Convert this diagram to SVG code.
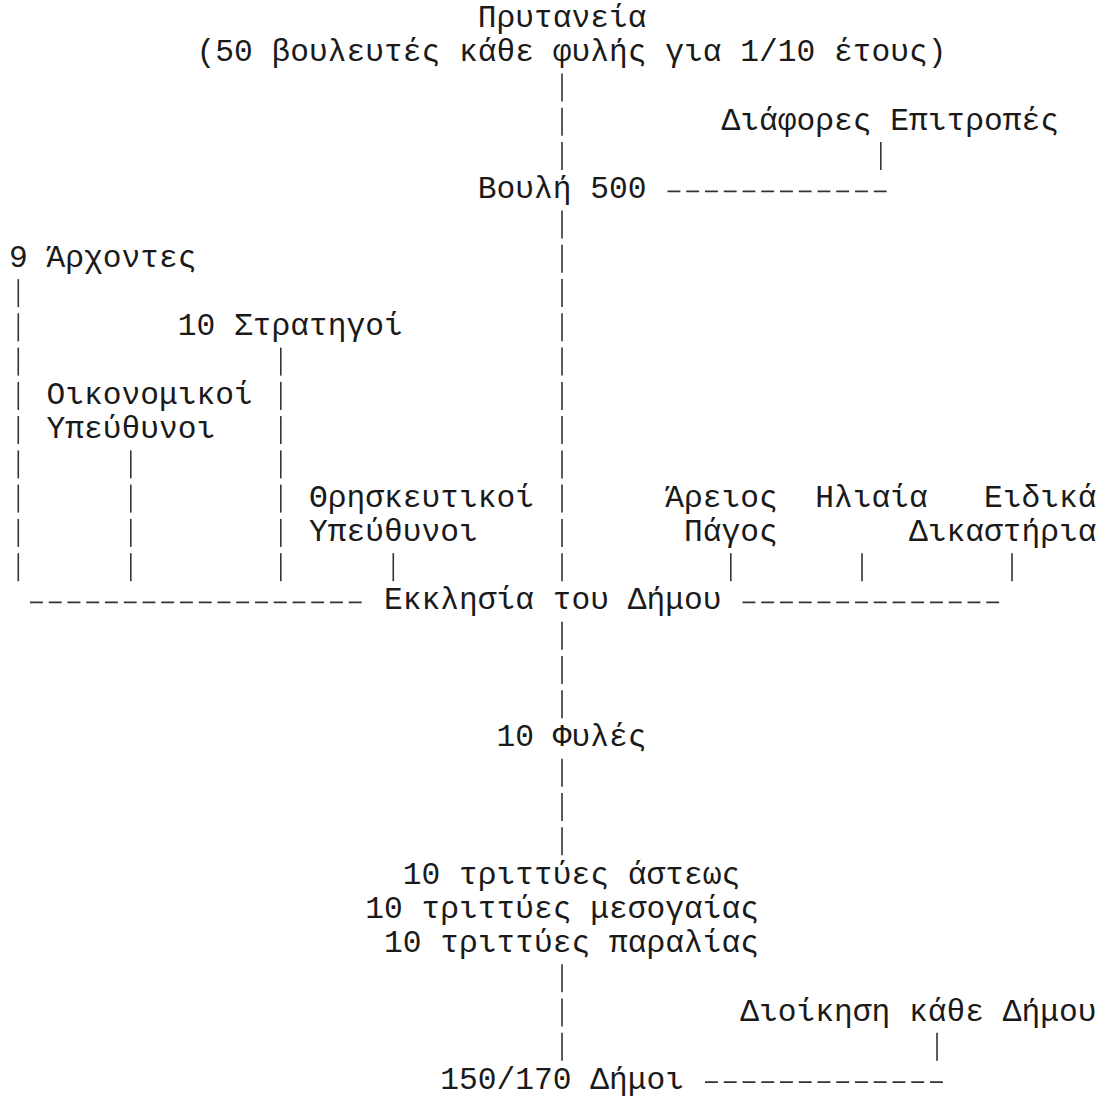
<svg xmlns="http://www.w3.org/2000/svg" width="1106" height="1099" viewBox="0 0 1106 1099">
<style>
  text { font-family: "Liberation Mono", "DejaVu Sans Mono", monospace; font-size: 31.25px; fill: #1a1a1a; white-space: pre; }
  .bar { stroke: #333; stroke-width: 1.6; }
  .dash { stroke: #333; stroke-width: 1.8; stroke-dasharray: 12.9 5.85; }
</style>
<rect width="1106" height="1099" fill="#fff"/>
<g id="connectors">
  <!-- vertical bars: x = column centre, y = baseline-22 .. baseline+6 -->
  <line class="bar" x1="562.03" y1="73.5" x2="562.03" y2="101.5"/>
  <line class="bar" x1="562.03" y1="107.8" x2="562.03" y2="135.8"/>
  <line class="bar" x1="562.03" y1="142" x2="562.03" y2="170"/>
  <line class="bar" x1="880.78" y1="142" x2="880.78" y2="170"/>
  <line class="bar" x1="562.03" y1="210.6" x2="562.03" y2="238.6"/>
  <line class="bar" x1="562.03" y1="244.8" x2="562.03" y2="272.8"/>
  <line class="bar" x1="18.28" y1="279.1" x2="18.28" y2="307.1"/>
  <line class="bar" x1="562.03" y1="279.1" x2="562.03" y2="307.1"/>
  <line class="bar" x1="18.28" y1="313.3" x2="18.28" y2="341.3"/>
  <line class="bar" x1="562.03" y1="313.3" x2="562.03" y2="341.3"/>
  <line class="bar" x1="18.28" y1="347.6" x2="18.28" y2="375.6"/>
  <line class="bar" x1="280.78" y1="347.6" x2="280.78" y2="375.6"/>
  <line class="bar" x1="562.03" y1="347.6" x2="562.03" y2="375.6"/>
  <line class="bar" x1="18.28" y1="381.9" x2="18.28" y2="409.9"/>
  <line class="bar" x1="280.78" y1="381.9" x2="280.78" y2="409.9"/>
  <line class="bar" x1="562.03" y1="381.9" x2="562.03" y2="409.9"/>
  <line class="bar" x1="18.28" y1="416.1" x2="18.28" y2="444.1"/>
  <line class="bar" x1="280.78" y1="416.1" x2="280.78" y2="444.1"/>
  <line class="bar" x1="562.03" y1="416.1" x2="562.03" y2="444.1"/>
  <line class="bar" x1="18.28" y1="450.4" x2="18.28" y2="478.4"/>
  <line class="bar" x1="130.78" y1="450.4" x2="130.78" y2="478.4"/>
  <line class="bar" x1="280.78" y1="450.4" x2="280.78" y2="478.4"/>
  <line class="bar" x1="562.03" y1="450.4" x2="562.03" y2="478.4"/>
  <line class="bar" x1="18.28" y1="484.6" x2="18.28" y2="512.6"/>
  <line class="bar" x1="130.78" y1="484.6" x2="130.78" y2="512.6"/>
  <line class="bar" x1="280.78" y1="484.6" x2="280.78" y2="512.6"/>
  <line class="bar" x1="562.03" y1="484.6" x2="562.03" y2="512.6"/>
  <line class="bar" x1="18.28" y1="518.9" x2="18.28" y2="546.9"/>
  <line class="bar" x1="130.78" y1="518.9" x2="130.78" y2="546.9"/>
  <line class="bar" x1="280.78" y1="518.9" x2="280.78" y2="546.9"/>
  <line class="bar" x1="562.03" y1="518.9" x2="562.03" y2="546.9"/>
  <line class="bar" x1="18.28" y1="553.2" x2="18.28" y2="581.2"/>
  <line class="bar" x1="130.78" y1="553.2" x2="130.78" y2="581.2"/>
  <line class="bar" x1="280.78" y1="553.2" x2="280.78" y2="581.2"/>
  <line class="bar" x1="393.28" y1="553.2" x2="393.28" y2="581.2"/>
  <line class="bar" x1="562.03" y1="553.2" x2="562.03" y2="581.2"/>
  <line class="bar" x1="730.78" y1="553.2" x2="730.78" y2="581.2"/>
  <line class="bar" x1="862.03" y1="553.2" x2="862.03" y2="581.2"/>
  <line class="bar" x1="1012.03" y1="553.2" x2="1012.03" y2="581.2"/>
  <line class="bar" x1="562.03" y1="621.7" x2="562.03" y2="649.7"/>
  <line class="bar" x1="562.03" y1="655.9" x2="562.03" y2="683.9"/>
  <line class="bar" x1="562.03" y1="690.2" x2="562.03" y2="718.2"/>
  <line class="bar" x1="562.03" y1="758.7" x2="562.03" y2="786.7"/>
  <line class="bar" x1="562.03" y1="793" x2="562.03" y2="821"/>
  <line class="bar" x1="562.03" y1="827.2" x2="562.03" y2="855.2"/>
  <line class="bar" x1="562.03" y1="964.3" x2="562.03" y2="992.3"/>
  <line class="bar" x1="562.03" y1="998.5" x2="562.03" y2="1026.5"/>
  <line class="bar" x1="562.03" y1="1032.8" x2="562.03" y2="1060.8"/>
  <line class="bar" x1="937.03" y1="1032.8" x2="937.03" y2="1060.8"/>
  <!-- dashed runs -->
  <line class="dash" x1="667.5" y1="191.3" x2="889.5" y2="191.3"/>
  <line class="dash" x1="30" y1="602.4" x2="364.5" y2="602.4"/>
  <line class="dash" x1="742.5" y1="602.4" x2="1002" y2="602.4"/>
  <line class="dash" x1="705" y1="1082.1" x2="945.5" y2="1082.1"/>
</g>
<g id="prytaneia">
  <text x="477.65" y="27">Πρυτανεία</text>
  <text x="196.4" y="61.26">(50 βουλευτές κάθε φυλής για 1/10 έτους)</text>
</g>
<g id="epitropes"><text x="721.4" y="129.78">Διάφορες Επιτροπές</text></g>
<g id="vouli"><text x="477.65" y="198.3">Βουλή 500</text></g>
<g id="archontes"><text x="8.9" y="266.82">9 Άρχοντες</text></g>
<g id="strategoi"><text x="177.65" y="335.34">10 Στρατηγοί</text></g>
<g id="oikonomikoi">
  <text x="46.4" y="403.86">Οικονομικοί</text>
  <text x="46.4" y="438.12">Υπεύθυνοι</text>
</g>
<g id="thriskeftikoi">
  <text x="308.9" y="506.64">Θρησκευτικοί</text>
  <text x="308.9" y="540.9">Υπεύθυνοι</text>
</g>
<g id="areios-pagos">
  <text x="665.15" y="506.64">Άρειος</text>
  <text x="683.9" y="540.9">Πάγος</text>
</g>
<g id="iliaia"><text x="815.15" y="506.64">Ηλιαία</text></g>
<g id="eidika">
  <text x="983.9" y="506.64">Ειδικά</text>
  <text x="908.9" y="540.9">Δικαστήρια</text>
</g>
<g id="ekklisia"><text x="383.9" y="609.42">Εκκλησία του Δήμου</text></g>
<g id="fyles"><text x="496.4" y="746.46">10 Φυλές</text></g>
<g id="trittyes">
  <text x="402.65" y="883.5">10 τριττύες άστεως</text>
  <text x="365.15" y="917.76">10 τριττύες μεσογαίας</text>
  <text x="383.9" y="952.02">10 τριττύες παραλίας</text>
</g>
<g id="dioikisi"><text x="740.15" y="1020.54">Διοίκηση κάθε Δήμου</text></g>
<g id="dimoi"><text x="440.15" y="1089.06">150/170 Δήμοι</text></g>
</svg>
